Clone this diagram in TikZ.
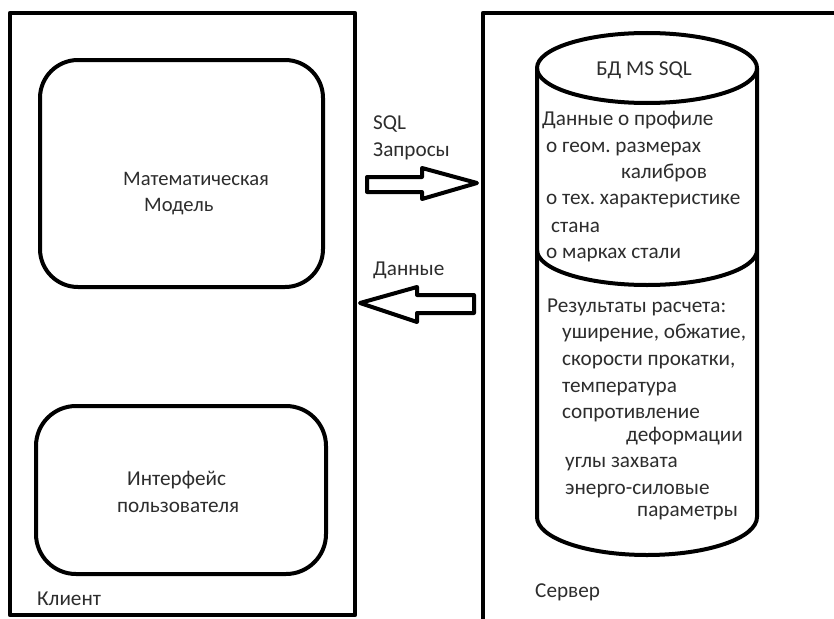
\documentclass[tikz,border=0pt]{standalone}
\usepackage{fontspec}
\setmainfont{Carlito}
\frenchspacing
\definecolor{txt}{RGB}{45,45,45}
\begin{document}
\begin{tikzpicture}[x=1pt,y=-1pt,line join=round,
  frame/.style={line width=4.5pt},
  shp/.style={line width=4pt},
  lbl/.style={anchor=base west,inner sep=0,text=txt,font=\fontsize{21.2}{25}\selectfont}]
\useasboundingbox (0,0) rectangle (834,618);
\clip (0,0) rectangle (834,618);
\fill[white] (0,0) rectangle (834,618);
% client frame
\draw[frame] (10,13) rectangle (355,615);
\coordinate (srvA) at (483,640);
\coordinate (srvB) at (483,13);
\coordinate (srvC) at (850,13);
\draw[frame] (srvA) -- (srvB) -- (srvC);
% rounded boxes
\draw[shp,rounded corners=38pt] (40,60) rectangle (323,287);
\draw[shp,rounded corners=40pt] (36,406) rectangle (326,574);
% labels left
\node[lbl,font=\fontsize{20.6}{25}\selectfont] (mm1) at (123,185) {Математическая};
\node[lbl,font=\fontsize{20.6}{25}\selectfont] (mm2) at (144,211) {Модель};
\node[lbl] (ui1) at (127,485) {Интерфейс};
\node[lbl] (ui2) at (117,512) {пользователя};
\node[lbl] (cl) at (37,605) {Клиент};
% arrow labels
\node[lbl] (sql1) at (373,129) {SQL};
\node[lbl] (sql2) at (373,156) {Запросы};
\node[lbl] (dat) at (373,275) {Данные};
% block arrows
\draw[shp] (367,177) -- (422,177) -- (422,168) -- (477,183) -- (422,199) -- (422,192) -- (367,192) -- cycle;
\draw[shp] (360,303) -- (417,287) -- (417,295) -- (474,295) -- (474,313) -- (417,313) -- (417,322) -- cycle;
% cylinder
\draw[shp] (647,68) ellipse [x radius=110pt, y radius=35pt];
\draw[shp] (537,68) -- (537,517) arc[start angle=180,end angle=360,x radius=110pt,y radius=38pt] -- (757,68);
\draw[shp] (537,250) arc[start angle=180,end angle=360,x radius=110pt,y radius=35pt];
% cylinder texts
\node[lbl,anchor=base] (db) at (644,75) {БД MS SQL};
\node[lbl] (t1) at (542,125) {Данные о профиле};
\node[lbl] (t2) at (546,152) {о геом. размерах};
\node[lbl] (t3) at (621,178) {калибров};
\node[lbl] (t4) at (546,204) {о тех. характеристике};
\node[lbl] (t5) at (551,232) {стана};
\node[lbl] (t6) at (546,258) {о марках стали};
\node[lbl] (r0) at (547,312) {Результаты расчета:};
\node[lbl] (r1) at (562,338) {уширение, обжатие,};
\node[lbl] (r2) at (562,365) {скорости прокатки,};
\node[lbl] (r3) at (562,392) {температура};
\node[lbl] (r4) at (562,418) {сопротивление};
\node[lbl] (r5) at (626,441) {деформации};
\node[lbl] (r6) at (565,467) {углы захвата};
\node[lbl] (r7) at (565,494) {энерго-силовые};
\node[lbl] (r8) at (637,516) {параметры};
\node[lbl] (srv) at (535,597) {Сервер};
\end{tikzpicture}
\end{document}
